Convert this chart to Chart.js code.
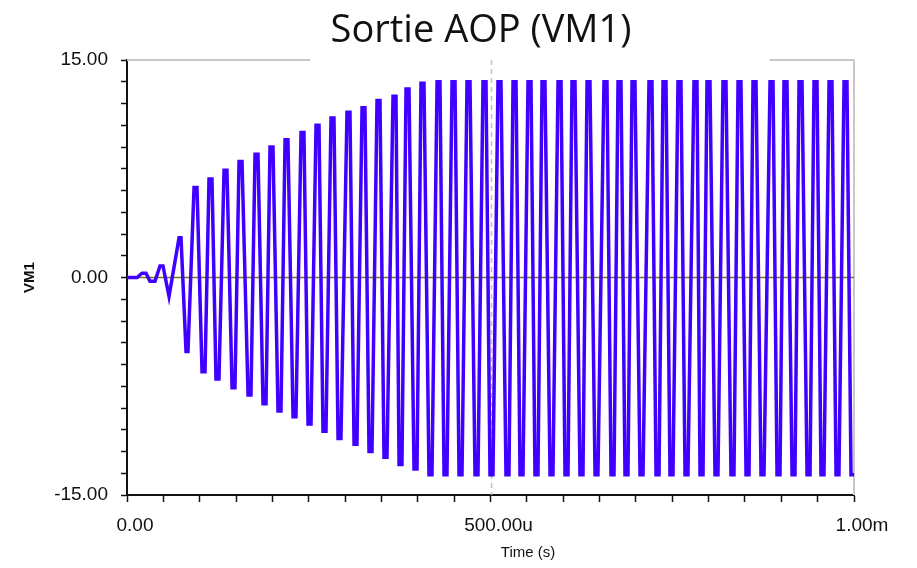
<!DOCTYPE html>
<html>
<head>
<meta charset="utf-8">
<script src="https://cdn.jsdelivr.net/npm/chart.js@4/dist/chart.umd.min.js"></script>
<style>
  html, body { margin: 0; padding: 0; background: #fff; }
  #wrap { position: relative; width: 917px; height: 568px; }
  #title { position: absolute; left: 231px; top: 4px; width: 500px; text-align: center;
           font: 38px/46px "Open Sans", sans-serif; color: #111; }
  #xtitle { position: absolute; left: 428px; top: 543px; width: 200px; text-align: center;
            font: 15px/18px "Liberation Sans", Arial, sans-serif; color: #111; }
</style>
</head>
<body>
<div id="wrap">
  <canvas id="scope" width="917" height="568"></canvas>
  <div id="title">Sortie AOP (VM1)</div>
  <div id="xtitle">Time (s)</div>
</div>
<script>
// ─── Data (time in µs, VM1 in volts) ──────────────────────────────────────────
// each entry is one flat stretch of the trace: from startUs to endUs at levelV
var startUs = [0, 20.6, 31.6, 45.4, 57.8,
    71.6, 81.2, 92.2, 103.2, 112.8, 122.4, 133.5, 144.5, 154.1, 166.5,
    176.1, 187.1, 196.7, 207.7, 217.4, 228.4, 239.4, 249.0, 260.0, 269.6,
    280.6, 290.3, 302.6, 312.3, 323.3, 332.9, 343.9, 353.5, 365.9, 374.2,
    383.8, 394.8, 404.4, 415.4, 426.5, 436.1, 447.1, 456.7, 467.7, 478.7,
    489.7, 499.3, 510.3, 521.3, 531.0, 540.6, 551.6, 561.2, 570.9, 581.9,
    592.9, 602.5, 612.1, 623.1, 632.8, 643.8, 656.1, 665.8, 675.4, 685.0,
    694.7, 705.7, 718.0, 727.7, 737.3, 746.9, 757.9, 767.6, 779.9, 788.2,
    797.8, 808.8, 819.8, 830.8, 840.5, 851.5, 861.1, 872.1, 884.5, 894.1,
    903.7, 914.8, 924.4, 935.4, 945.0, 954.6, 965.7, 975.3, 986.3, 995.9];
var endUs = [13.8, 26.1, 38.5, 49.5, 57.8,
    74.3, 83.9, 96.3, 107.3, 116.9, 126.5, 137.5, 148.5, 158.2, 170.5,
    180.2, 191.2, 200.8, 211.8, 221.4, 232.4, 243.4, 253.1, 264.1, 273.7,
    284.7, 294.3, 306.7, 316.3, 327.3, 337.0, 348.0, 357.6, 370.0, 378.2,
    387.9, 398.9, 408.5, 419.5, 430.5, 440.1, 451.2, 460.8, 471.8, 482.8,
    493.8, 503.4, 514.4, 525.4, 535.1, 544.7, 555.7, 565.3, 574.9, 585.9,
    597.0, 606.6, 616.2, 627.2, 636.8, 647.8, 660.2, 669.9, 679.5, 689.1,
    698.7, 709.8, 722.1, 731.8, 741.4, 751.0, 762.0, 771.6, 784.0, 792.3,
    801.9, 812.9, 823.9, 834.9, 844.5, 855.6, 865.2, 876.2, 888.6, 898.2,
    907.8, 918.8, 928.5, 939.5, 949.1, 958.7, 969.7, 979.3, 990.3, 1000.0];
var levelV = [0, 0.3, -0.25, 0.8, -1.3,
    2.75, -5.1, 6.2, -6.5, 6.8, -7.0, 7.4, -7.6, 8.0, -8.1,
    8.5, -8.7, 9.0, -9.2, 9.5, -9.6, 10.0, -10.1, 10.5, -10.6,
    11.0, -11.1, 11.4, -11.5, 11.7, -12.0, 12.2, -12.4, 12.5, -12.9,
    13.0, -13.2, 13.4, -13.6, 13.5, -13.6, 13.5, -13.6, 13.5, -13.6,
    13.5, -13.6, 13.5, -13.6, 13.5, -13.6, 13.5, -13.6, 13.5, -13.6,
    13.5, -13.6, 13.5, -13.6, 13.5, -13.6, 13.5, -13.6, 13.5, -13.6,
    13.5, -13.6, 13.5, -13.6, 13.5, -13.6, 13.5, -13.6, 13.5, -13.6,
    13.5, -13.6, 13.5, -13.6, 13.5, -13.6, 13.5, -13.6, 13.5, -13.6,
    13.5, -13.6, 13.5, -13.6, 13.5, -13.6, 13.5, -13.6, 13.5, -13.6];

var xLabels = { 0: '0.00', 500: '500.00u', 1000: '1.00m' };
var yLabels = { '15': '15.00', '0': '0.00', '-15': '-15.00' };
var xTickStep = 50;   // µs between small ticks
var yTickStep = 1.5;  // volts between small ticks

// ─── Build point list ─────────────────────────────────────────────────────────

var points = [];
startUs.forEach(function (s, i) {
    points.push({ x: s, y: levelV[i] });
    if (endUs[i] !== s) points.push({ x: endUs[i], y: levelV[i] });
});

function evenTicks(scale, step) {
    const ticks = [];
    const n = Math.round((scale.max - scale.min) / step);
    for (let i = 0; i <= n; i++) ticks.push({ value: Math.round((scale.min + i * step) * 100) / 100 });
    scale.ticks = ticks;
}

// ─── Decorations: zero line, dashed mid grid, partial frame ──────────────────

var scopeDecor = {
    id: 'scopeDecor',
    beforeDatasetsDraw(chart) {
        const { ctx, chartArea: a, scales: { x, y } } = chart;
        ctx.save();
        // light frame (top is broken under the title)
        ctx.strokeStyle = '#c8c8c8';
        ctx.lineWidth = 2;
        ctx.beginPath();
        ctx.moveTo(a.left, a.top); ctx.lineTo(x.getPixelForValue(252), a.top);
        ctx.moveTo(x.getPixelForValue(884), a.top); ctx.lineTo(a.right, a.top);
        ctx.lineTo(a.right, a.bottom);
        ctx.stroke();
        // dashed grid at 500u
        ctx.strokeStyle = '#c0c0c0';
        ctx.lineWidth = 1.5;
        ctx.setLineDash([5, 4]);
        ctx.beginPath();
        const xm = Math.round(x.getPixelForValue(500)) + 0.5;
        ctx.moveTo(xm, a.top); ctx.lineTo(xm, a.bottom);
        ctx.stroke();
        ctx.setLineDash([]);
        // zero line
        ctx.strokeStyle = '#7a7a10';
        ctx.lineWidth = 1.5;
        ctx.beginPath();
        const y0 = y.getPixelForValue(0);
        ctx.moveTo(a.left, y0); ctx.lineTo(a.right, y0);
        ctx.stroke();
        ctx.restore();
    }
};

Chart.defaults.font.family = '"Liberation Sans", Arial, sans-serif';
Chart.defaults.color = '#111';

new Chart(document.getElementById('scope'), {
    type: 'line',
    data: {
        datasets: [{
            data: points,
            borderColor: '#4000ff',
            borderWidth: 3.5,
            borderJoinStyle: 'miter',
            pointRadius: 0,
            tension: 0,
            fill: false
        }]
    },
    options: {
        responsive: false,
        animation: false,
        devicePixelRatio: 1,
        layout: { padding: { left: 0, right: 63, top: 60, bottom: 0 } },
        plugins: {
            legend: { display: false },
            tooltip: { enabled: false },
            title: { display: false }
        },
        scales: {
            x: {
                type: 'linear',
                min: 0,
                max: 1000,
                afterFit(scale) { scale.height = 73; },
                afterBuildTicks(scale) { evenTicks(scale, xTickStep); },
                border: { display: true, color: '#111', width: 2 },
                grid: { drawOnChartArea: false, drawTicks: true, tickLength: 7, tickColor: '#111', tickWidth: 1.5 },
                ticks: {
                    autoSkip: false,
                    maxRotation: 0,
                    padding: 12,
                    labelOffset: 8,
                    font: { size: 19 },
                    callback: v => xLabels[v] || ''
                }
            },
            y: {
                min: -15,
                max: 15,
                afterFit(scale) { scale.width = 127; },
                afterBuildTicks(scale) { evenTicks(scale, yTickStep); },
                border: { display: true, color: '#111', width: 2 },
                grid: { drawOnChartArea: false, drawTicks: true, tickLength: 6, tickColor: '#111', tickWidth: 1.5 },
                ticks: {
                    autoSkip: false,
                    padding: 13,
                    font: { size: 19 },
                    callback: v => yLabels[String(v)] || ''
                },
                title: {
                    display: true,
                    text: 'VM1',
                    font: { size: 15, weight: 'bold' },
                    padding: { top: 21, bottom: 0 }
                }
            }
        }
    },
    plugins: [scopeDecor]
});
</script>
</body>
</html>
